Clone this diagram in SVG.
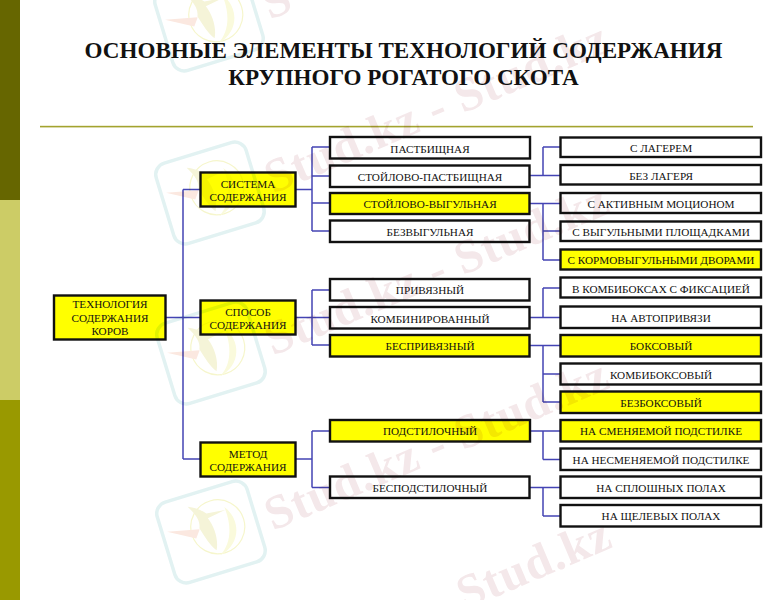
<svg xmlns="http://www.w3.org/2000/svg" width="767" height="600" viewBox="0 0 767 600">
<style>
text{font-family:"Liberation Serif","Times New Roman",serif;fill:#111;text-anchor:middle}
.t{font-size:23.100px;font-weight:bold}
.b{stroke:#111;stroke-width:2.4px;fill:#fff}
.y{fill:#ffff00}
.n{font-size:11.200px}
.c{fill:none;stroke:#4444b4;stroke-width:1.5px}
.wm{font-size:48px;font-weight:bold;fill:#c88a94;opacity:.2;letter-spacing:1px;text-anchor:start}
#watermark{mix-blend-mode:multiply}
</style>
<defs>
<g id="logo" fill="none">
<rect x="-47" y="-42" width="94" height="84" rx="12" stroke="#e2f2f2" stroke-width="3.500"/>
<circle cx="8" cy="-3" r="27" stroke="#f6f6cc" stroke-width="1.200"/>
<path d="M20 -20 C32 -4 26 20 2 25 C16 17 22 0 20 -20Z" fill="#fafadc"/>
<path d="M-42 -13 L-10 -6 L-16 2Z" fill="#fbe8e0"/>
<path d="M-15 -31 C-9 -21 -7 -13 -10 -7 C-7 4 -5 12 0 19 C5 10 5 -4 1 -14 L20 -17 L1 -19 C-4 -25 -8 -28 -15 -31Z" fill="#f5f4d8"/>
</g>
</defs>
<rect width="767" height="600" fill="#fff"/>
<rect x="0" y="0" width="20" height="200" fill="#666600"/>
<rect x="0" y="200" width="20" height="200" fill="#cccc66"/>
<rect x="0" y="400" width="20" height="200" fill="#999900"/>
<rect x="40" y="125.800" width="713" height="1.600" fill="#a3a32e"/>
<text class="t" x="403.500" y="58">ОСНОВНЫЕ ЭЛЕМЕНТЫ ТЕХНОЛОГИЙ СОДЕРЖАНИЯ</text>
<text class="t" x="403.500" y="85">КРУПНОГО РОГАТОГО СКОТА</text>
<g id="connectors" class="c">
<path class="c" d="M166 317.500H200M183 189.500V459M183 189.500H200M183 459H200"/>
<path class="c" d="M296 189.500H312M312 147V231M312 147H329M312 176H329M312 203H329M312 231H329"/>
<path class="c" d="M296 317.500H312M312 290V345M312 290H329M312 317.500H329M312 345H329"/>
<path class="c" d="M296 459H312M312 431V487.500M312 431H329M312 487.500H329"/>
<path class="c" d="M530 175.500H543M543 147V175.500M543 147H560M543 175.500H560"/>
<path class="c" d="M530 203.500H560M543 203.500V260M543 231H560M543 260H560"/>
<path class="c" d="M530 317.500H560M543 288V317.500M543 288H560"/>
<path class="c" d="M530 345.500H560M543 345.500V402M543 374H560M543 402H560"/>
<path class="c" d="M530 431H560M543 431V459.500M543 459.500H560"/>
<path class="c" d="M530 487.500H560M543 487.500V516M543 516H560"/>
</g>
<g id="root"><rect class="b y" x="54" y="295.500" width="111.500" height="44"/><text class="n" x="110" y="308">ТЕХНОЛОГИЯ</text><text class="n" x="110" y="322">СОДЕРЖАНИЯ</text><text class="n" x="110" y="335">КОРОВ</text></g>
<g id="system"><rect class="b y" x="200.500" y="172.500" width="95" height="34"/><text class="n" x="248" y="188">СИСТЕМА</text><text class="n" x="248" y="201">СОДЕРЖАНИЯ</text></g>
<g id="way"><rect class="b y" x="200.500" y="300.500" width="95" height="34"/><text class="n" x="248" y="316">СПОСОБ</text><text class="n" x="248" y="329">СОДЕРЖАНИЯ</text></g>
<g id="method"><rect class="b y" x="200.500" y="442.500" width="95" height="34"/><text class="n" x="248" y="458">МЕТОД</text><text class="n" x="248" y="471">СОДЕРЖАНИЯ</text></g>
<g id="a1"><rect class="b" x="330" y="137" width="200" height="21.500"/><text class="n" x="430" y="152.500">ПАСТБИЩНАЯ</text></g>
<g id="a2"><rect class="b" x="330" y="165.500" width="199.500" height="21.500"/><text class="n" x="430" y="181">СТОЙЛОВО-ПАСТБИЩНАЯ</text></g>
<g id="a3"><rect class="b y" x="330" y="193" width="199.500" height="21"/><text class="n" x="430" y="208">СТОЙЛОВО-ВЫГУЛЬНАЯ</text></g>
<g id="a4"><rect class="b" x="330" y="220.500" width="199.500" height="21.500"/><text class="n" x="430" y="236">БЕЗВЫГУЛЬНАЯ</text></g>
<g id="a5"><rect class="b" x="330" y="279" width="199.500" height="21.500"/><text class="n" x="430" y="294">ПРИВЯЗНЫЙ</text></g>
<g id="a6"><rect class="b" x="330" y="307" width="199.500" height="21.500"/><text class="n" x="430" y="322.500">КОМБИНИРОВАННЫЙ</text></g>
<g id="a7"><rect class="b y" x="330" y="335" width="199.500" height="21.500"/><text class="n" x="430" y="350">БЕСПРИВЯЗНЫЙ</text></g>
<g id="a8"><rect class="b y" x="330" y="420" width="200" height="21.500"/><text class="n" x="430" y="435">ПОДСТИЛОЧНЫЙ</text></g>
<g id="a9"><rect class="b" x="330" y="476.500" width="199.500" height="21.500"/><text class="n" x="430" y="492">БЕСПОДСТИЛОЧНЫЙ</text></g>
<g id="b1"><rect class="b" x="560.500" y="137.500" width="200.500" height="19.500"/><text class="n" x="661" y="152">С ЛАГЕРЕМ</text></g>
<g id="b2"><rect class="b" x="560.500" y="165" width="200.500" height="19.500"/><text class="n" x="661" y="179.500">БЕЗ ЛАГЕРЯ</text></g>
<g id="b3"><rect class="b" x="560.500" y="193" width="200.500" height="20"/><text class="n" x="661" y="207.500">С АКТИВНЫМ МОЦИОНОМ</text></g>
<g id="b4"><rect class="b" x="560.500" y="221.500" width="200.500" height="19.500"/><text class="n" x="661" y="236">С ВЫГУЛЬНЫМИ ПЛОЩАДКАМИ</text></g>
<g id="b5"><rect class="b y" x="560.500" y="249.500" width="200.500" height="20"/><text class="n" x="661" y="264">С КОРМОВЫГУЛЬНЫМИ ДВОРАМИ</text></g>
<g id="b6"><rect class="b" x="560.500" y="277.500" width="200.500" height="20"/><text class="n" x="661" y="293">В КОМБИБОКСАХ С ФИКСАЦИЕЙ</text></g>
<g id="b7"><rect class="b" x="560.500" y="306.500" width="200.500" height="21.500"/><text class="n" x="661" y="322">НА АВТОПРИВЯЗИ</text></g>
<g id="b8"><rect class="b y" x="560.500" y="335" width="200.500" height="21.500"/><text class="n" x="661" y="350">БОКСОВЫЙ</text></g>
<g id="b9"><rect class="b" x="560.500" y="363.500" width="200.500" height="21"/><text class="n" x="661" y="378.500">КОМБИБОКСОВЫЙ</text></g>
<g id="b10"><rect class="b y" x="560.500" y="391.500" width="200.500" height="21.500"/><text class="n" x="661" y="407">БЕЗБОКСОВЫЙ</text></g>
<g id="b11"><rect class="b y" x="560.500" y="420" width="200.500" height="21.500"/><text class="n" x="661" y="435">НА СМЕНЯЕМОЙ ПОДСТИЛКЕ</text></g>
<g id="b12"><rect class="b" x="560.500" y="448.500" width="200.500" height="21.500"/><text class="n" x="661" y="463.500">НА НЕСМЕНЯЕМОЙ ПОДСТИЛКЕ</text></g>
<g id="b13"><rect class="b" x="560.500" y="476.500" width="200.500" height="21.500"/><text class="n" x="661" y="492">НА СПЛОШНЫХ ПОЛАХ</text></g>
<g id="b14"><rect class="b" x="560.500" y="505" width="200.500" height="21.500"/><text class="n" x="661" y="520">НА ЩЕЛЕВЫХ ПОЛАХ</text></g>
<g id="watermark">
<use href="#logo" transform="translate(209 20) rotate(-17)"/>
<use href="#logo" transform="translate(210 193) rotate(-17)"/>
<use href="#logo" transform="translate(211 353) rotate(-17)"/>
<use href="#logo" transform="translate(211 532) rotate(-17)"/>
<text class="wm" transform="translate(273 194) rotate(-23)">Stud.kz - Stud.kz</text>
<text class="wm" transform="translate(273 356) rotate(-23)">Stud.kz - Stud.kz</text>
<text class="wm" transform="translate(273 531) rotate(-23)">Stud.kz - Stud.kz</text>
<text class="wm" transform="translate(465 610) rotate(-23)">Stud.kz</text>
<text class="wm" transform="translate(270 20) rotate(-23)">S</text>
</g>
</svg>
